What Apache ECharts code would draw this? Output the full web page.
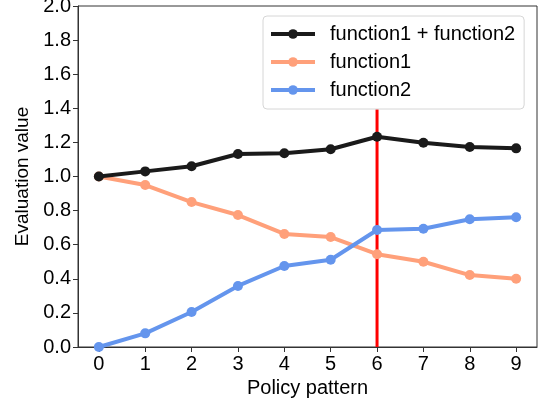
<!DOCTYPE html>
<html><head><meta charset="utf-8">
<script src="https://cdn.jsdelivr.net/npm/echarts@6/dist/echarts.min.js"></script>
<style>html,body{margin:0;padding:0;background:#fff}#c{width:542px;height:400px}</style>
</head><body><div id="c"></div>
<script>
const xValues = [0,1,2,3,4,5,6,7,8,9];
const sumValues = [1.0,1.03,1.06,1.132,1.136,1.16,1.233,1.198,1.173,1.165];
const f1Values = [1.0,0.95,0.85,0.774,0.663,0.645,0.544,0.50,0.422,0.40];
const f2Values = [0.0,0.08,0.205,0.358,0.475,0.512,0.686,0.694,0.749,0.761];
const markerX = 6;
const markerYRange = [0, 1.395];
const names = ['function1 + function2','function1','function2'];
const colors = ['#1a1a1a','#FFA07A','#6495ED'];
const font = 'Liberation Sans, Arial, sans-serif';
const chart = echarts.init(document.getElementById('c'));
function mk(name, vals, color, extra){
  return Object.assign({
    name, type:'line', data: xValues.map((x,i)=>[x, vals[i]]),
    lineStyle:{width:4,color}, itemStyle:{color}, symbol:'circle', symbolSize:10,
    showSymbol:true, animation:false
  }, extra||{});
}
chart.setOption({
  animation:false,
  grid:{left:78,right:5,top:6,bottom:53,show:true,borderColor:'#333',borderWidth:1,
        containLabel:false, outerBoundsMode:'none'},
  legend:{
    orient:'vertical', left:263, top:16, z:20,
    data:names, itemWidth:44, itemHeight:12, itemGap:8,
    lineStyle:{width:4},
    textStyle:{fontSize:20,fontFamily:font,color:'#000',padding:[0,0,0,10]},
    backgroundColor:'#fff', borderColor:'#d6d6d6', borderWidth:1, borderRadius:4,
    padding:[8,9,9,6]
  },
  xAxis:{
    type:'value', min:-0.45, max:9.45,
    name:'Policy pattern', nameLocation:'middle', nameGap:27,
    nameTextStyle:{fontSize:20,fontFamily:font,color:'#000'},
    axisLine:{show:true,onZero:false,lineStyle:{color:'#333'}},
    axisTick:{show:true,customValues:xValues,length:5,lineStyle:{color:'#333'}},
    axisLabel:{customValues:xValues,fontSize:20,fontFamily:font,color:'#000',margin:7},
    splitLine:{show:false}
  },
  yAxis:{
    type:'value', min:0, max:2, interval:0.2,
    name:'Evaluation value', nameLocation:'middle', nameGap:44,
    nameTextStyle:{fontSize:19,fontFamily:font,color:'#000'},
    axisLine:{show:true,onZero:false,lineStyle:{color:'#333'}},
    axisTick:{show:true,length:5,lineStyle:{color:'#333'}},
    axisLabel:{fontSize:20,fontFamily:font,color:'#000',margin:7,formatter:v=>v.toFixed(1)},
    splitLine:{show:false}
  },
  series:[
    {name:'marker', type:'line', z:1, data:markerYRange.map(y=>[markerX,y]),
     symbol:'none', lineStyle:{color:'#ff0000',width:3}, silent:true, animation:false},
    mk(names[0], sumValues, colors[0], {z:4}),
    mk(names[1], f1Values, colors[1], {z:2}),
    mk(names[2], f2Values, colors[2], {z:3})
  ]
});
</script></body></html>
